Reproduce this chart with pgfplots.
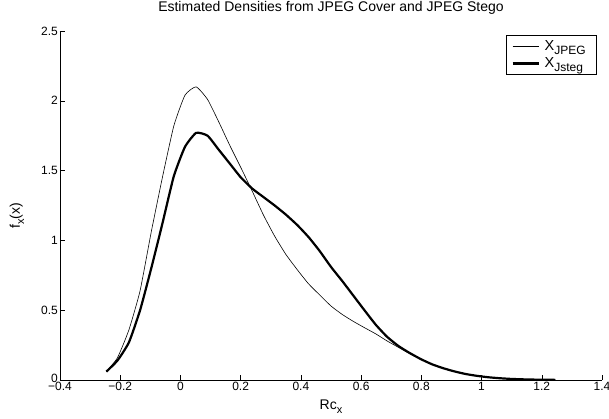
\documentclass[border=0pt]{standalone}
\usepackage{fontspec}
\setmainfont{Liberation Sans}
\usepackage{pgfplots}
\pgfplotsset{compat=1.18}
\newcommand{\sub}[1]{\raisebox{-0.55ex}{\fontsize{11bp}{11bp}\selectfont #1}}
\newcommand{\lsub}[1]{\raisebox{-0.5ex}{\fontsize{12bp}{12bp}\selectfont #1}}
\begin{document}
\begin{tikzpicture}
\useasboundingbox (-60bp,-39bp) rectangle (549bp,380bp);
\begin{axis}[
  scale only axis, width=542bp, height=349bp,
  xmin=-0.4, xmax=1.4, ymin=0, ymax=2.5,
  axis x line=bottom, axis y line=left, axis line style={-, line width=0.5bp},
  tick align=inside, major tick length=5bp,
  tick style={line width=0.5bp, black},
  xtick={-0.4,-0.2,0,0.2,0.4,0.6,0.8,1,1.2,1.4},
  xticklabels={−0.4,−0.2,0,0.2,0.4,0.6,0.8,1,1.2,1.4},
  ytick={0,0.5,1,1.5,2,2.5},
  yticklabels={\raisebox{3.5bp}{0},0.5,1,1.5,2,2.5},
  tick label style={font=\fontsize{12bp}{14bp}\selectfont},
  xticklabel style={inner sep=1bp, yshift=-1bp},
  yticklabel style={inner sep=2bp},
  title={Estimated Densities from JPEG Cover and JPEG Stego},
  title style={at={(axis description cs:0.5,1)}, anchor=base, yshift=14bp, font=\fontsize{14bp}{16bp}\selectfont},
  xlabel={Rc\sub{x}},
  xlabel style={at={(axis description cs:0.5,0)}, anchor=base, yshift=-29bp, font=\fontsize{14bp}{16bp}\selectfont},
  ylabel={f\sub{x}(x)},
  ylabel style={at={([xshift=-40bp]axis description cs:0,0.47)}, anchor=base, rotate=0, font=\fontsize{14bp}{16bp}\selectfont},
  legend style={at={(axis description cs:1,1)}, anchor=north east, xshift=-6bp, yshift=-4bp,
    font=\fontsize{14.5bp}{16bp}\selectfont, draw=black, line width=0.5bp, inner xsep=5bp, inner ysep=3bp,
    row sep=2bp, nodes={inner xsep=5bp}},
  legend cell align=left,
  legend image code/.code={\draw[#1] (0bp,0bp) -- (26bp,0bp);},
]
\addplot[black, line width=0.6bp, smooth, tension=0.3] coordinates {
(-0.246,0.06) (-0.209,0.16) (-0.171,0.36) (-0.134,0.64) (-0.097,1.06)
(-0.060,1.45) (-0.022,1.82) (0.015,2.04) (0.052,2.10) (0.090,2.01)
(0.127,1.85) (0.164,1.68) (0.201,1.52) (0.239,1.35) (0.276,1.18)
(0.313,1.03) (0.350,0.90) (0.388,0.79) (0.425,0.69) (0.462,0.61)
(0.500,0.53) (0.537,0.47) (0.574,0.42) (0.611,0.375) (0.649,0.33)
(0.686,0.28) (0.723,0.235) (0.760,0.19) (0.798,0.15) (0.835,0.113)
(0.872,0.085) (0.909,0.062) (0.947,0.043) (0.984,0.03) (1.021,0.02)
(1.058,0.013) (1.096,0.008) (1.133,0.005) (1.170,0.003) (1.207,0.002) (1.245,0.001)
};
\addlegendentry{X\lsub{JPEG}}
\addplot[black, line width=2.2bp, smooth, tension=0.3] coordinates {
(-0.246,0.06) (-0.209,0.14) (-0.171,0.27) (-0.134,0.50) (-0.097,0.80)
(-0.060,1.12) (-0.022,1.46) (0.015,1.67) (0.052,1.77) (0.090,1.75)
(0.127,1.65) (0.164,1.55) (0.201,1.45) (0.239,1.37) (0.276,1.31)
(0.313,1.25) (0.350,1.185) (0.388,1.11) (0.425,1.025) (0.462,0.925)
(0.500,0.81) (0.537,0.71) (0.574,0.605) (0.611,0.50) (0.649,0.395)
(0.686,0.31) (0.723,0.245) (0.760,0.195) (0.798,0.15) (0.835,0.113)
(0.872,0.085) (0.909,0.062) (0.947,0.043) (0.984,0.03) (1.021,0.02)
(1.058,0.013) (1.096,0.008) (1.133,0.005) (1.170,0.003) (1.207,0.002) (1.245,0.001)
};
\addlegendentry{X\lsub{Jsteg}}
\end{axis}
\end{tikzpicture}
\end{document}
